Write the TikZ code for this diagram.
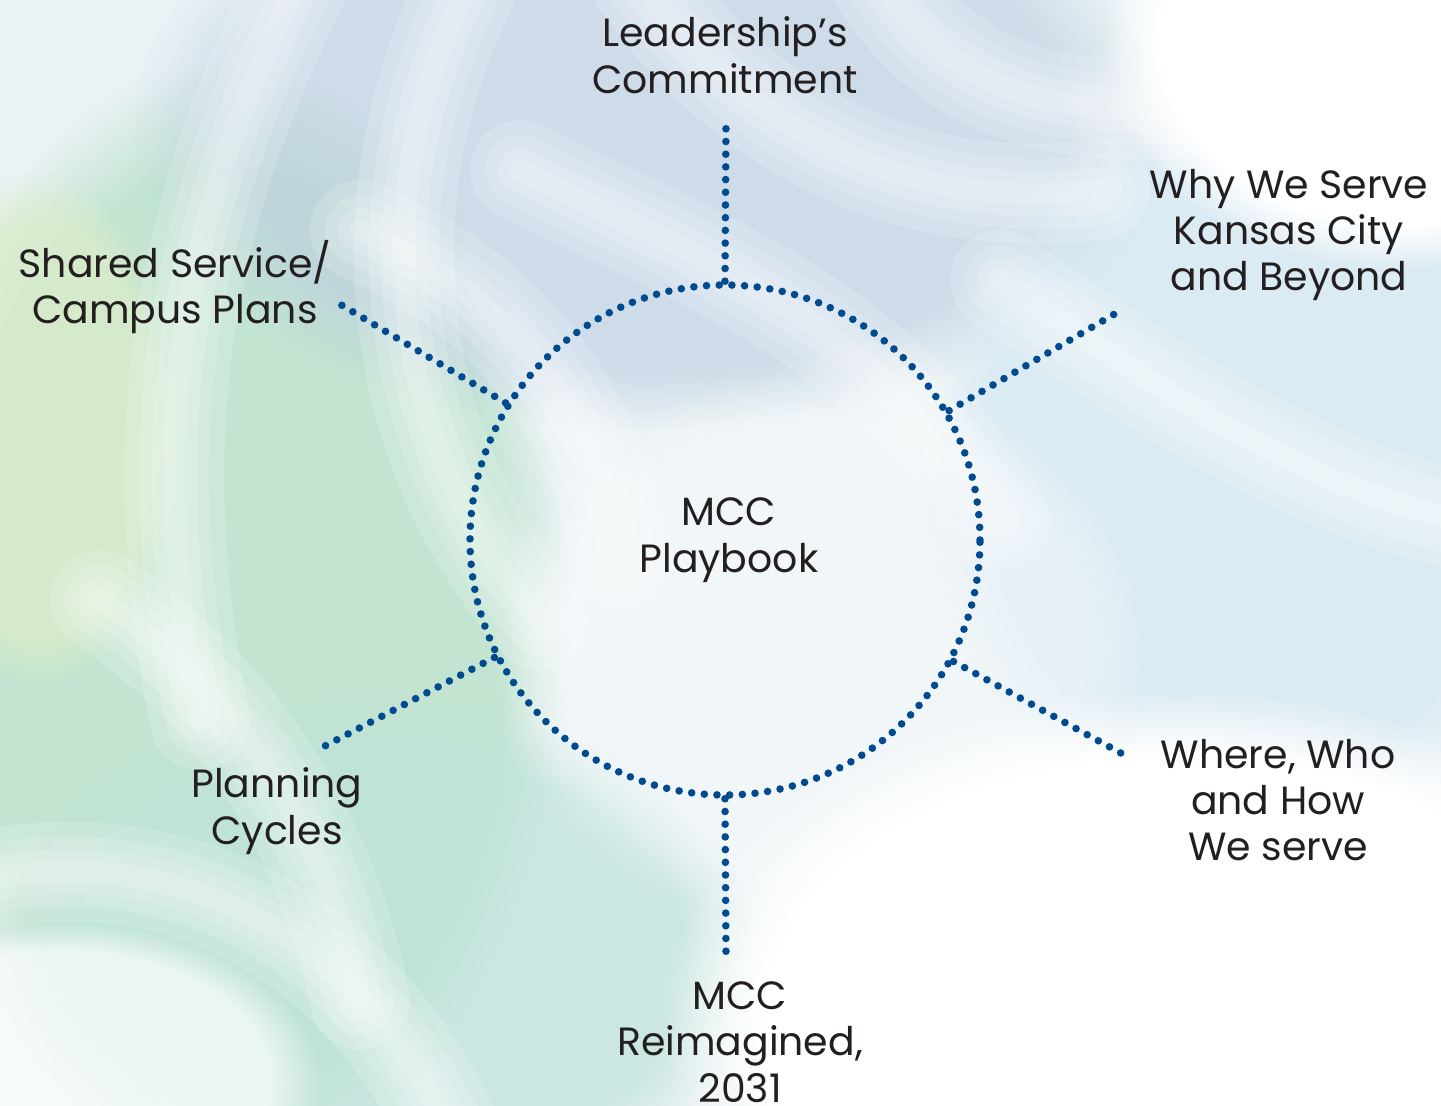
\documentclass[tikz,border=0pt]{standalone}
\usepackage{fontspec}
\setmainfont{Poppins}
\usetikzlibrary{fadings}
\definecolor{dotblue}{HTML}{004A8F}
\definecolor{txt}{HTML}{231F20}
\definecolor{bgbase}{HTML}{EAF2F5}
\definecolor{bggreen}{HTML}{B5E0C6}
\definecolor{bgyel}{HTML}{DCEDC8}
\definecolor{bgteal}{HTML}{BEE3DA}
\definecolor{bgblue}{HTML}{BCCEE1}
\definecolor{bglblue}{HTML}{D2E7F3}
\tikzset{
  dotline/.style={draw=dotblue, line width=3.8pt, line cap=round, dash pattern=on 0pt off 6.35pt},
  lbl/.style={text=txt, align=center, font=\fontsize{19.7}{23.2}\selectfont, inner sep=0pt},
  blob/.style={fill=#1, path fading=circle with fuzzy edge 20 percent},
  swoosh/.style={white, opacity=0.16, line cap=round}
}
\begin{document}
\begin{tikzpicture}[x=0.5pt, y=-0.5pt]
\useasboundingbox (0,0) rectangle (1441,1106);
% background
\fill[bgbase] (0,0) rectangle (1441,1106);
\fill[blob=bggreen, fill opacity=0.75] (230,620) ellipse (340 and 560);
\fill[blob=bgyel, fill opacity=0.7] (40,430) ellipse (140 and 260);
\fill[blob=bgteal, fill opacity=0.7] (380,960) ellipse (380 and 260);
\fill[blob=bgblue, fill opacity=0.6] (650,130) ellipse (520 and 300);
\fill[blob=bglblue, fill opacity=0.6] (1250,470) ellipse (330 and 380);
\fill[blob=white, fill opacity=1] (1180,1020) ellipse (520 and 330);
\fill[blob=white, fill opacity=1] (1400,40) ellipse (300 and 230);
\fill[blob=white, fill opacity=0.35] (820,650) ellipse (330 and 280);
\fill[blob=white, fill opacity=0.7] (60,1080) ellipse (260 and 160);
% swooshes
\foreach \w in {100,70,45,22} {
  \draw[swoosh, line width=\w*0.5pt]
    (300,-20) .. controls (190,200) and (140,420) .. (200,720);
  \draw[swoosh, line width=\w*0.5pt]
    (470,-20) .. controls (360,200) and (390,450) .. (540,620);
  \draw[swoosh, line width=\w*0.5pt]
    (-20,880) .. controls (200,840) and (360,950) .. (450,1130);
  \draw[swoosh, line width=\w*0.5pt]
    (640,-20) .. controls (760,150) and (930,210) .. (1100,190);
  \draw[swoosh, line width=\w*0.5pt]
    (880,-20) .. controls (950,90) and (1060,130) .. (1260,100);
  \draw[swoosh, line width=\w*0.5pt]
    (520,170) .. controls (700,260) and (880,320) .. (1000,520);
  \draw[swoosh, line width=\w*0.5pt]
    (360,230) .. controls (520,300) and (600,420) .. (620,560);
  \draw[swoosh, line width=\w*0.5pt]
    (1000,280) .. controls (1150,380) and (1280,480) .. (1460,520);
  \draw[swoosh, line width=\w*0.5pt]
    (100,600) .. controls (250,700) and (330,850) .. (360,1000);
}
% central circle
\node[dotline, circle, minimum size=255pt, inner sep=0pt] (pb) at (725,540) {};
\node[lbl] (mcc) at (729,540) {MCC\\Playbook};
% spoke ends
\coordinate (eT) at (726,125);
\coordinate (eB) at (726,955);
\coordinate (eUR) at (1118,312);
\coordinate (eLR) at (1128,757);
\coordinate (eUL) at (333,300);
\coordinate (eLL) at (323,747);
\draw[dotline] (pb.90) -- (eT);
\draw[dotline] (pb.-90) -- (eB);
\draw[dotline] (pb.30) -- (eUR);
\draw[dotline] (pb.-28) -- (eLR);
\draw[dotline] (pb.148.5) -- (eUL);
\draw[dotline] (pb.207) -- (eLL);
% labels
\node[lbl] (lead) at (725,55) {Leadership’s\\Commitment};
\node[lbl] (why) at (1289,235) {Why We Serve\\Kansas City\\and Beyond};
\node[lbl] (shared) at (175,287) {Shared Service/\\Campus Plans};
\node[lbl] (plan) at (277,811) {Planning\\Cycles};
\node[lbl] (where) at (1278,800) {Where, Who\\and How\\We serve};
\node[lbl] (reim) at (740,1042) {MCC\\Reimagined,\\2031};
\end{tikzpicture}
\end{document}
